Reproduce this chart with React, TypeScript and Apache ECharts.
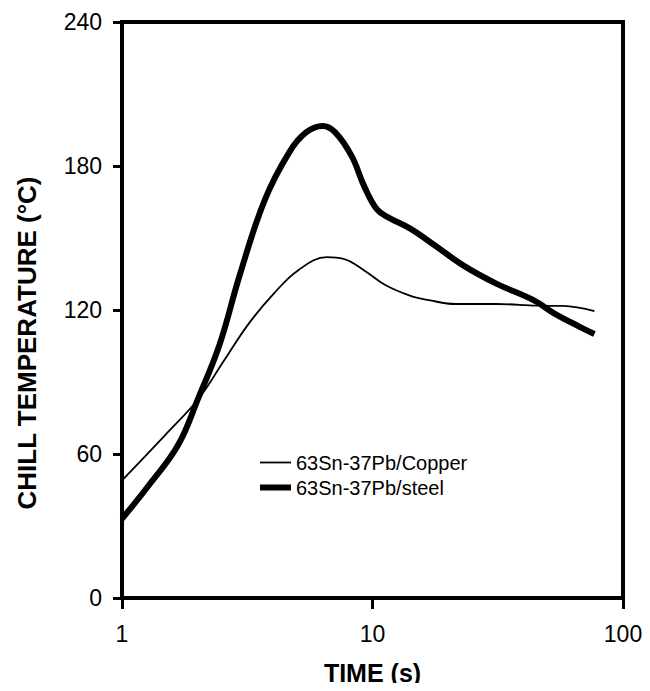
import React, { useEffect, useRef } from "react";
import * as echarts from "echarts";

const copperTime = [1, 1.49, 2.02, 2.54, 3.19, 4.01, 5.04, 6.58, 7.66, 9.27, 11.2, 14.1, 17, 21.4, 31.2, 45.6, 57.5, 76.9];
const copperTemp = [49, 68, 83, 98.5, 114, 126.5, 136.5, 142, 141.3, 136.5, 130.5, 126, 124, 122.5, 122.5, 121.8, 121.7, 119.5];

const steelTime = [1, 1.28, 1.67, 2.02, 2.45, 2.96, 3.72, 4.67, 5.43, 6.33, 7.1, 8.27, 9.27, 10.4, 11.6, 14.1, 17.7, 23.1, 31.2, 44.1, 53.3, 67.2, 76.9];
const steelTemp = [33, 47, 63.5, 83.5, 105.5, 135, 166, 186, 194, 196.7, 194, 184, 171.5, 162, 158.5, 154, 147, 138.5, 131, 124, 118.5, 113, 110];

const seriesNames = ["63Sn-37Pb/Copper", "63Sn-37Pb/steel"];
const xTickLabels = ["1", "10", "100"];
const yTicks = [0, 60, 120, 180, 240];

const FONT = 'Arial, "Liberation Sans", sans-serif';

export default function App() {
  const ref = useRef<HTMLDivElement>(null);
  useEffect(() => {
    if (!ref.current) return;
    const chart = echarts.init(ref.current, undefined, { renderer: "svg" });
    const pairs = (xs: number[], ys: number[]) => xs.map((x, i) => [x, ys[i]]);
    chart.setOption({
      animation: false,
      backgroundColor: "#fff",
      grid: {
        left: 122,
        right: 27,
        top: 22,
        bottom: 93,
        show: true,
        borderColor: "#000",
        borderWidth: 4,
      },
      legend: {
        orient: "vertical",
        left: 257,
        top: 452,
        padding: 0,
        itemWidth: 31,
        itemHeight: 14,
        itemGap: 4,
        data: [
          { name: seriesNames[0], lineStyle: { width: 1.8, color: "#000" } },
          { name: seriesNames[1], lineStyle: { width: 6, color: "#000" } },
        ],
        itemStyle: { opacity: 0 },
        textStyle: { fontFamily: FONT, fontSize: 20, color: "#000", lineHeight: 21 },
      },
      xAxis: {
        type: "log",
        logBase: 10,
        min: 1,
        max: 100,
        name: "TIME (s)",
        nameLocation: "middle",
        nameGap: 62,
        nameTextStyle: { fontFamily: FONT, fontSize: 25, fontWeight: "bold", color: "#000" },
        axisLine: { lineStyle: { color: "#000", width: 4 } },
        axisTick: { show: true, length: 11, lineStyle: { color: "#000", width: 3 } },
        axisLabel: {
          margin: 24,
          fontFamily: FONT,
          fontSize: 23,
          color: "#000",
          formatter: (v: number) => xTickLabels[Math.round(Math.log10(v))] ?? "",
        },
        splitLine: { show: false },
        minorTick: { show: false },
      },
      yAxis: {
        type: "value",
        min: 0,
        max: 240,
        interval: 60,
        name: "CHILL TEMPERATURE (°C)",
        nameLocation: "middle",
        nameGap: 82,
        nameTextStyle: {
          fontFamily: FONT,
          fontSize: 26,
          fontWeight: "bold",
          color: "#000",
          padding: [0, 66, 0, 0],
        },
        axisLine: { show: true, lineStyle: { color: "#000", width: 4 } },
        axisTick: { show: true, length: 9, lineStyle: { color: "#000", width: 3 } },
        axisLabel: {
          margin: 20,
          fontFamily: FONT,
          fontSize: 23,
          color: "#000",
          formatter: (v: number) => (yTicks.includes(v) ? String(v) : ""),
        },
        splitLine: { show: false },
      },
      series: [
        {
          name: seriesNames[0],
          type: "line",
          data: pairs(copperTime, copperTemp),
          smooth: 0.4,
          symbol: "none",
          lineStyle: { color: "#000", width: 1.8 },
          itemStyle: { color: "#000" },
        },
        {
          name: seriesNames[1],
          type: "line",
          data: pairs(steelTime, steelTemp),
          smooth: 0.4,
          symbol: "none",
          lineStyle: { color: "#000", width: 6 },
          itemStyle: { color: "#000" },
        },
      ],
    });
    return () => chart.dispose();
  }, []);
  return <div ref={ref} style={{ width: 650, height: 691, margin: -8 }} />;
}
